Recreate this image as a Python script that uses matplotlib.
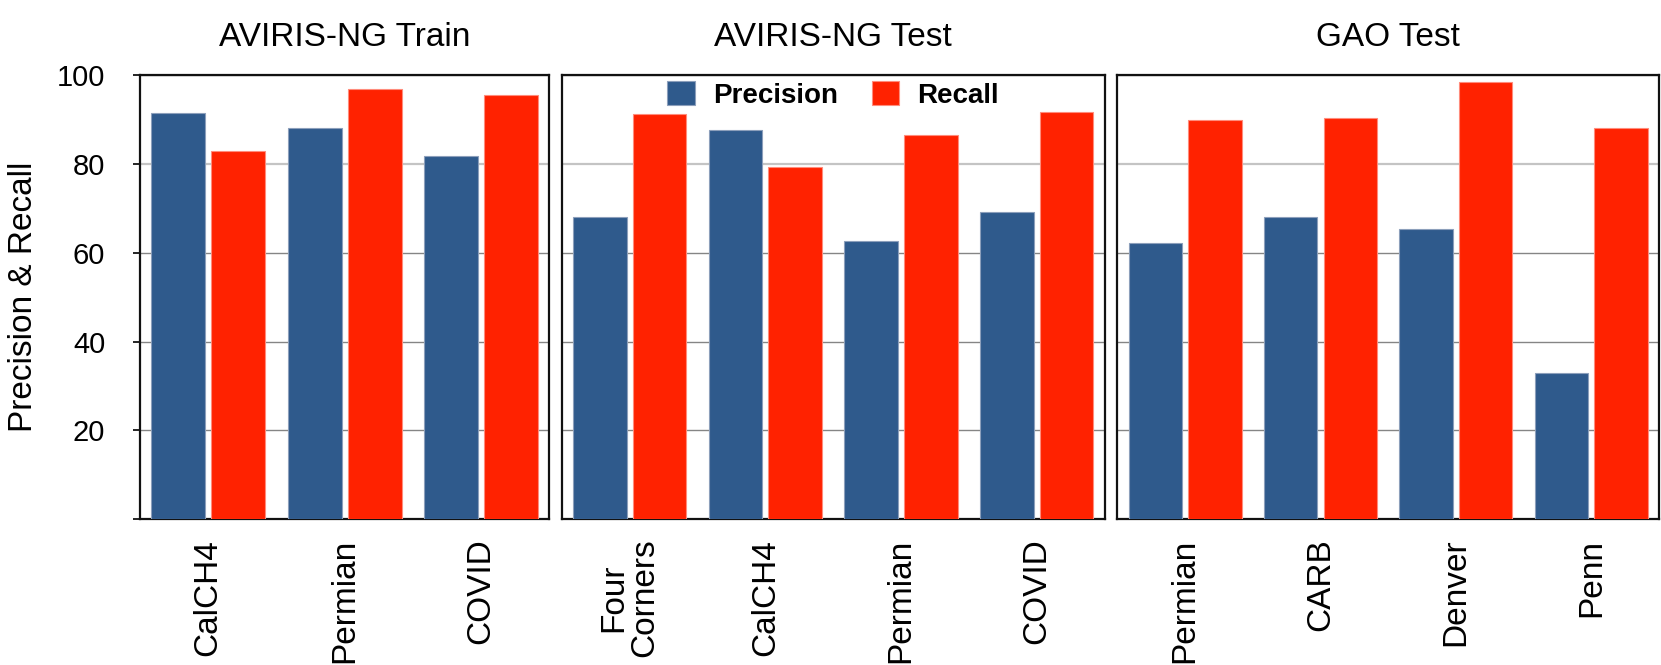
import numpy as np
import matplotlib
matplotlib.use("Agg")
import matplotlib.pyplot as plt
from matplotlib.patches import Patch

plt.rcParams["font.family"] = ["Liberation Sans", "DejaVu Sans"]

# ---------- Data ----------

titles = ["AVIRIS-NG Train", "AVIRIS-NG Test", "GAO Test"]

train_sites = ["CalCH4", "Permian", "COVID"]
train_precision = [91.4, 88.1, 81.7]
train_recall = [82.9, 96.8, 95.4]

ang_test_sites = ["Four\nCorners", "CalCH4", "Permian", "COVID"]
ang_test_precision = [68.1, 87.6, 62.7, 69.2]
ang_test_recall = [91.2, 79.4, 86.4, 91.7]

gao_test_sites = ["Permian", "CARB", "Denver", "Penn"]
gao_test_precision = [62.2, 68.1, 65.3, 33.0]
gao_test_recall = [89.8, 90.3, 98.4, 88.1]

y_ticks = [0, 20, 40, 60, 80, 100]

BLUE = "#2f5a8c"
RED = "#ff2200"

# ---------- Plot ----------

fig = plt.figure(figsize=(16.61, 6.65), dpi=100)

bottom, height = 0.2191, 0.6681
boxes = [
    (0.0843, 0.2464),
    (0.3382, 0.3268),
    (0.6727, 0.3261),
]
panels = [
    (train_sites, train_precision, train_recall),
    (ang_test_sites, ang_test_precision, ang_test_recall),
    (gao_test_sites, gao_test_precision, gao_test_recall),
]

bar_w = 0.395
off = 0.22

for i, ((left, width), (sites, prec, rec)) in enumerate(zip(boxes, panels)):
    ax = fig.add_axes([left, bottom, width, height])
    x = np.arange(len(sites))
    ax.bar(x - off, prec, bar_w, color=BLUE, edgecolor="#8c9fbb",
           linewidth=0.8, zorder=3)
    ax.bar(x + off, rec, bar_w, color=RED, edgecolor="#ff8c7c",
           linewidth=0.8, zorder=3)

    ax.set_xlim(-0.5, len(sites) - 0.5)
    ax.set_ylim(0, 100)
    ax.set_yticks(y_ticks)
    ax.set_xticks(x)
    ax.set_xticklabels(sites, rotation=90, fontsize=24, linespacing=1.0)
    ax.tick_params(axis="x", length=0, pad=14)

    ax.yaxis.grid(True, color="#858585", linewidth=1.0, zorder=0)
    for line, t in zip(ax.get_ygridlines(), y_ticks):
        if t == 80:
            line.set_color("#c4c4c4")
            line.set_linewidth(1.6)
    ax.set_axisbelow(True)

    for sp in ax.spines.values():
        sp.set_linewidth(1.6)
        sp.set_color("#111111")

    if i == 0:
        ax.set_yticklabels([""] + [str(t) for t in y_ticks[1:]], fontsize=21)
        ax.tick_params(axis="y", length=5, width=1.2, pad=20)
        ax.set_ylabel("Precision & Recall", fontsize=24, labelpad=13)
    else:
        ax.tick_params(axis="y", length=0, labelleft=False)

    ax.set_title(titles[i], fontsize=24, pad=21)

    if i == 1:
        handles = [Patch(facecolor=BLUE, edgecolor="#8c9fbb", linewidth=0.8),
                   Patch(facecolor=RED, edgecolor="#ff8c7c", linewidth=0.8)]
        ax.legend(handles, ["Precision", "Recall"], loc="center",
                  bbox_to_anchor=(0.5, 0.955), ncol=2, frameon=False,
                  prop={"weight": "bold", "size": 20},
                  handlelength=1.0, handleheight=0.95, handletextpad=0.65,
                  columnspacing=1.2, borderpad=0, borderaxespad=0)

fig.savefig("out.png", dpi=100)
plt.close(fig)
